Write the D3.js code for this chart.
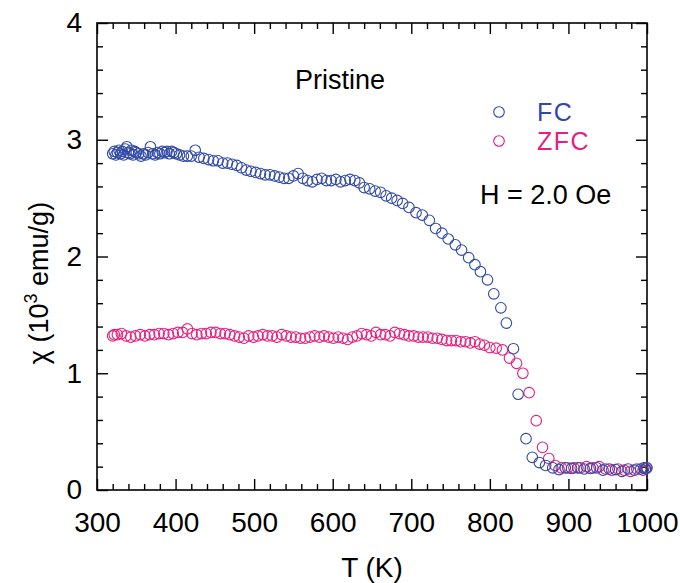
<!DOCTYPE html>
<html>
<head>
<meta charset="utf-8">
<script src="https://cdn.jsdelivr.net/npm/d3@7"></script>
<style>
  html, body { margin: 0; padding: 0; background: #fff; }
  svg { display: block; font-family: "Liberation Sans", Arial, Helvetica, sans-serif; }
</style>
</head>
<body>
<svg id="chart" width="680" height="583"></svg>
<script>
// Susceptibility vs temperature, field-cooled (FC) and zero-field-cooled (ZFC)
const fcT = [320, 322, 324, 326, 328, 330, 332, 334, 336, 338, 340, 342, 344, 346, 348, 350,
  353, 356, 359, 362, 365, 368, 371, 374, 377, 380, 383, 386, 389, 392, 395, 398, 401, 405,
  410, 415, 420, 425, 430, 436, 442, 448, 454, 460, 466, 472, 478, 484, 490, 496, 502, 508,
  514, 520, 526, 532, 538, 544, 550, 556, 562, 568, 574, 580, 586, 592, 598, 604, 610, 616,
  622, 628, 634, 640, 647, 654, 661, 668, 675, 682, 689, 697, 706, 714, 723, 731, 739, 747,
  756, 764, 773, 781, 788, 797, 805, 814, 821, 830, 836, 846, 854, 863, 871, 880, 888, 896,
  904, 912, 920, 928, 936, 944, 952, 960, 968, 976, 984, 992, 996, 998, 1000];
const fcChi = [2.88, 2.90, 2.87, 2.89, 2.91, 2.88, 2.90, 2.87, 2.92, 2.94, 2.89, 2.88, 2.91, 2.87, 2.90, 2.89,
  2.88, 2.86, 2.88, 2.87, 2.89, 2.94, 2.88, 2.87, 2.89, 2.88, 2.90, 2.89, 2.90, 2.88, 2.90, 2.89, 2.88, 2.87,
  2.86, 2.86, 2.86, 2.91, 2.85, 2.84, 2.83, 2.82, 2.82, 2.80, 2.80, 2.79, 2.78, 2.76, 2.74, 2.73, 2.72, 2.71,
  2.70, 2.70, 2.69, 2.68, 2.67, 2.67, 2.69, 2.71, 2.67, 2.65, 2.64, 2.66, 2.67, 2.65, 2.65, 2.66, 2.64, 2.65,
  2.66, 2.65, 2.63, 2.59, 2.58, 2.56, 2.55, 2.52, 2.50, 2.48, 2.455, 2.42, 2.375, 2.355, 2.31, 2.24, 2.20, 2.15,
  2.10, 2.055, 1.99, 1.93, 1.87, 1.80, 1.68, 1.56, 1.43, 1.21, 0.82, 0.44, 0.28, 0.235, 0.21, 0.19, 0.175, 0.19,
  0.185, 0.19, 0.18, 0.185, 0.19, 0.17, 0.18, 0.175, 0.16, 0.18, 0.17, 0.18, 0.19, 0.18, 0.19];

const zfcT = [320, 322, 326, 331, 337, 343, 349, 355, 361, 367, 373, 379, 385, 391, 397, 403, 409, 415,
  421, 427, 433, 439, 445, 451, 457, 463, 469, 475, 481, 487, 493, 499, 505, 511, 517, 523, 529, 535,
  541, 547, 553, 559, 565, 571, 577, 583, 589, 595, 601, 607, 613, 619, 625, 631, 637, 643, 649, 655,
  661, 667, 673, 679, 685, 691, 697, 703, 709, 715, 721, 727, 733, 739, 745, 751, 757, 763, 769, 775,
  781, 787, 793, 800, 808, 816, 825, 834, 842, 850, 859, 867, 875, 883, 891, 899, 907, 915, 923, 931,
  939, 947, 955, 963, 971, 979, 987, 995, 999];
const zfcChi = [1.32, 1.33, 1.33, 1.34, 1.32, 1.31, 1.32, 1.33, 1.32, 1.33, 1.33, 1.34, 1.34, 1.33, 1.34, 1.35, 1.35, 1.38,
  1.34, 1.33, 1.34, 1.34, 1.35, 1.35, 1.34, 1.34, 1.33, 1.32, 1.31, 1.30, 1.32, 1.31, 1.32, 1.33, 1.32, 1.32, 1.31, 1.33,
  1.32, 1.31, 1.31, 1.30, 1.30, 1.31, 1.32, 1.31, 1.32, 1.31, 1.30, 1.31, 1.30, 1.29, 1.31, 1.32, 1.34, 1.33, 1.32, 1.35,
  1.33, 1.33, 1.32, 1.35, 1.34, 1.33, 1.32, 1.32, 1.31, 1.31, 1.31, 1.30, 1.30, 1.29, 1.28, 1.28, 1.28, 1.27, 1.27, 1.26,
  1.27, 1.25, 1.24, 1.22, 1.215, 1.20, 1.13, 1.085, 1.00, 0.834, 0.594, 0.366, 0.27, 0.21, 0.19, 0.19, 0.19, 0.19, 0.20, 0.19,
  0.20, 0.18, 0.17, 0.18, 0.17, 0.16, 0.18, 0.17, 0.19];

const xMajor = [300, 400, 500, 600, 700, 800, 900, 1000];
const yMajor = [0, 1, 2, 3, 4];

const FC_COLOR = "#3049a6";
const ZFC_COLOR = "#e61f7c";

const margin = { left: 97, right: 33, top: 23, bottom: 93 };
const W = 680, H = 583;
const iw = W - margin.left - margin.right;
const ih = H - margin.top - margin.bottom;

const svg = d3.select("#chart");
const g = svg.append("g").attr("transform", `translate(${margin.left},${margin.top})`);

const x = d3.scaleLinear().domain([300, 1000]).range([0, iw]);
const y = d3.scaleLinear().domain([0, 4]).range([ih, 0]);

const minorX = d3.range(300, 1001, 20).filter(v => v % 100 !== 0);
const minorY = d3.range(0, 4.001, 0.2).map(v => +v.toFixed(1)).filter(v => Math.abs(v - Math.round(v)) > 1e-6);

const MAJ = 11, MIN = 6;

function styleAxis(sel) {
  sel.select(".domain").remove();
  sel.selectAll("line").attr("stroke", "#000").attr("stroke-width", 1.4);
  sel.selectAll("text").attr("fill", "#000").attr("font-size", 28);
}

// bottom axis with labels, inward ticks
const bottom = g.append("g").attr("transform", `translate(0,${ih})`)
  .call(d3.axisBottom(x).tickValues(xMajor).tickSize(-MAJ).tickPadding(22).tickFormat(d3.format("d")));
styleAxis(bottom);
g.append("g").attr("transform", `translate(0,${ih})`)
  .call(d3.axisBottom(x).tickValues(minorX).tickSize(-MIN).tickFormat(""))
  .call(styleAxis);

// top axis ticks
g.append("g").call(d3.axisTop(x).tickValues(xMajor).tickSize(-MAJ).tickFormat("")).call(styleAxis);
g.append("g").call(d3.axisTop(x).tickValues(minorX).tickSize(-MIN).tickFormat("")).call(styleAxis);

// left axis with labels
const left = g.append("g")
  .call(d3.axisLeft(y).tickValues(yMajor).tickSize(-MAJ).tickPadding(15).tickFormat(d3.format("d")));
styleAxis(left);
g.append("g").call(d3.axisLeft(y).tickValues(minorY).tickSize(-MIN).tickFormat("")).call(styleAxis);

// right axis ticks
g.append("g").attr("transform", `translate(${iw},0)`)
  .call(d3.axisRight(y).tickValues(yMajor).tickSize(-MAJ).tickFormat("")).call(styleAxis);
g.append("g").attr("transform", `translate(${iw},0)`)
  .call(d3.axisRight(y).tickValues(minorY).tickSize(-MIN).tickFormat("")).call(styleAxis);

// frame
g.append("rect").attr("x", 0).attr("y", 0).attr("width", iw).attr("height", ih)
  .attr("fill", "none").attr("stroke", "#000").attr("stroke-width", 1.6);

// data markers
const R = 5.3;
function drawSeries(T, V, color) {
  g.append("g").selectAll("circle")
    .data(T.map((t, i) => [t, V[i]]))
    .join("circle")
    .attr("cx", d => x(d[0]))
    .attr("cy", d => y(d[1]))
    .attr("r", R)
    .attr("fill", "none")
    .attr("stroke", color)
    .attr("stroke-width", 1.1);
}
drawSeries(zfcT, zfcChi, ZFC_COLOR);
drawSeries(fcT, fcChi, FC_COLOR);

// annotations
svg.append("text").attr("x", 295).attr("y", 89).attr("font-size", 27).attr("fill", "#000").text("Pristine");
svg.append("text").attr("x", 480).attr("y", 204).attr("font-size", 27).attr("fill", "#000").text("H = 2.0 Oe");

// legend
const legend = [
  { label: "FC", color: FC_COLOR, y: 112 },
  { label: "ZFC", color: ZFC_COLOR, y: 141 }
];
legend.forEach(d => {
  svg.append("circle").attr("cx", 499).attr("cy", d.y).attr("r", R)
    .attr("fill", "none").attr("stroke", d.color).attr("stroke-width", 1.1);
  svg.append("text").attr("x", 537).attr("y", d.y + 9).attr("font-size", 25)
    .attr("fill", d.color).attr("letter-spacing", 1.5).text(d.label);
});

// axis titles
svg.append("text").attr("x", margin.left + iw / 2).attr("y", 577).attr("text-anchor", "middle")
  .attr("font-size", 28).attr("fill", "#000").text("T (K)");

const yt = svg.append("text").attr("transform", "translate(48,283) rotate(-90)")
  .attr("text-anchor", "middle").attr("font-size", 27).attr("fill", "#000");
yt.append("tspan").text("χ (10");
yt.append("tspan").attr("font-size", 18).attr("dy", -11).text("3");
yt.append("tspan").attr("dy", 11).text(" emu/g)");
</script>
</body>
</html>
